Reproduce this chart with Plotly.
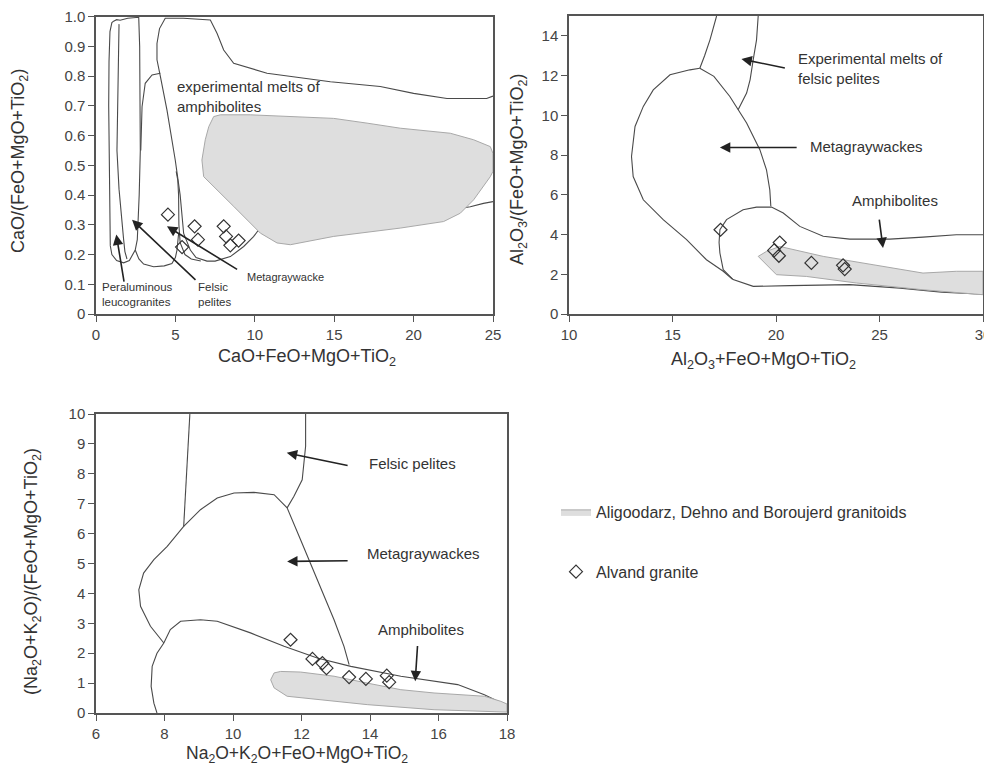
import plotly.graph_objects as go

# ---------------- Panel 1: CaO/(FeO+MgO+TiO2) vs CaO+FeO+MgO+TiO2 ----------------
p1_leuco_x = [0.90, 0.86, 0.84, 0.80, 0.82, 0.88, 1.00, 1.11, 1.30, 1.52, 2.00, 2.69, 2.75, 2.79, 2.79, 2.72, 2.68, 2.60, 2.47, 2.10, 1.74, 1.30, 1.00, 0.90]
p1_leuco_y = [0.23, 0.40, 0.55, 0.70, 0.85, 0.95, 0.98, 0.985, 0.99, 0.988, 0.995, 0.998, 0.90, 0.70, 0.55, 0.40, 0.33, 0.25, 0.215, 0.18, 0.172, 0.18, 0.20, 0.23]
p1_inner_x = [1.45, 1.40, 1.36, 1.32, 1.45, 1.60, 1.74, 1.82, 1.95]
p1_inner_y = [0.975, 0.85, 0.70, 0.55, 0.42, 0.32, 0.25, 0.21, 0.185]
p1_pel_x = [2.47, 2.70, 3.00, 3.63, 4.30, 4.78, 5.00, 5.10, 5.20]
p1_pel_y = [0.215, 0.185, 0.168, 0.159, 0.162, 0.17, 0.19, 0.215, 0.27]
p1_bump_x = [2.82, 2.85, 2.90, 3.10, 3.53, 4.05]
p1_bump_y = [0.55, 0.62, 0.697, 0.776, 0.804, 0.81]
p1_amph_x = [25.0, 24.4, 23.57, 20.0, 15.0, 12.0, 10.2, 9.92, 9.3, 8.46, 7.5, 6.99, 6.3, 5.94, 5.52, 5.30, 4.99, 4.47, 4.05, 3.84, 3.84, 4.00, 4.36, 5.50, 7.20, 7.62, 8.04, 8.67, 10.77, 14.76, 17.9, 20.0, 22.1, 24.6, 25.0]
p1_amph_y = [0.378, 0.372, 0.361, 0.33, 0.30, 0.29, 0.28, 0.26, 0.227, 0.193, 0.178, 0.178, 0.19, 0.215, 0.271, 0.40, 0.518, 0.686, 0.80, 0.855, 0.91, 0.96, 0.995, 0.995, 0.989, 0.944, 0.888, 0.843, 0.81, 0.781, 0.765, 0.742, 0.725, 0.725, 0.733]
p1_mg_x = [5.05, 5.15, 5.20, 5.22, 5.30, 5.60, 6.00, 6.60]
p1_mg_y = [0.48, 0.45, 0.40, 0.30, 0.24, 0.20, 0.185, 0.178]
p1_grey_x = [7.41, 7.83, 9.72, 12.87, 14.97, 17.07, 19.16, 22.31, 23.78, 24.83, 25.0, 25.0, 24.83, 23.78, 22.94, 21.89, 19.16, 14.97, 12.24, 11.4, 10.35, 8.67, 7.41, 6.78, 6.67, 6.88, 7.10, 7.41]
p1_grey_y = [0.664, 0.67, 0.67, 0.664, 0.658, 0.642, 0.625, 0.608, 0.586, 0.563, 0.54, 0.48, 0.462, 0.384, 0.339, 0.311, 0.289, 0.261, 0.233, 0.239, 0.272, 0.362, 0.429, 0.462, 0.518, 0.586, 0.63, 0.664]
p1_alv_x = [4.53, 5.42, 6.21, 6.42, 8.04, 8.19, 8.46, 8.98]
p1_alv_y = [0.334, 0.225, 0.295, 0.25, 0.295, 0.261, 0.231, 0.247]
p1_yticks = [0, 0.1, 0.2, 0.3, 0.4, 0.5, 0.6, 0.7, 0.8, 0.9, 1.0]
p1_ytext = ["0", "0.1", "0.2", "0.3", "0.4", "0.5", "0.6", "0.7", "0.8", "0.9", "1.0"]
p1_xticks = [0, 5, 10, 15, 20, 25]

# ---------------- Panel 2: Al2O3/(FeO+MgO+TiO2) vs Al2O3+FeO+MgO+TiO2 ----------------
p2_fpl_x = [17.13, 16.95, 16.81, 16.55, 16.32]
p2_fpl_y = [15.0, 14.3, 13.8, 13.0, 12.37]
p2_fpr_x = [19.14, 19.10, 19.06, 18.90, 18.75, 18.58, 18.17]
p2_fpr_y = [15.0, 14.3, 13.8, 12.8, 11.8, 11.12, 10.28]
p2_mgl_x = [16.32, 15.84, 14.88, 14.07, 13.59, 13.19, 13.02, 13.10, 13.59, 14.55, 15.68, 16.64, 17.45, 17.90]
p2_mgl_y = [12.37, 12.29, 12.04, 11.28, 10.45, 9.44, 7.93, 6.92, 5.75, 4.75, 3.74, 2.73, 2.15, 1.75]
p2_mgr_x = [16.32, 17.00, 17.77, 18.58, 19.22, 19.54, 19.70, 19.75]
p2_mgr_y = [12.37, 11.96, 10.95, 9.61, 8.27, 7.26, 6.25, 5.42]
p2_amph_x = [30.0, 28.71, 27.1, 25.5, 23.56, 22.28, 21.15, 20.35, 19.78, 19.06, 18.41, 17.61, 17.29, 17.25, 17.29, 17.45, 17.93, 18.9, 20.67, 23.56, 26.0, 28.0, 30.0]
p2_amph_y = [3.99, 3.99, 3.87, 3.77, 3.77, 3.91, 4.41, 5.08, 5.38, 5.38, 5.25, 4.75, 4.24, 3.6, 3.07, 2.23, 1.73, 1.39, 1.43, 1.48, 1.3, 1.1, 1.0]
p2_grey_x = [19.14, 19.54, 20.18, 22.28, 24.69, 27.1, 28.71, 30.0, 30.0, 27.1, 23.89, 21.47, 20.02, 19.62, 19.14]
p2_grey_y = [2.9, 3.15, 3.4, 2.9, 2.48, 2.06, 2.15, 2.15, 0.97, 1.22, 1.56, 1.89, 1.98, 2.4, 2.9]
p2_alv_x = [17.32, 20.18, 19.91, 20.14, 21.71, 23.24, 23.32]
p2_alv_y = [4.24, 3.6, 3.2, 2.93, 2.57, 2.45, 2.26]
p2_xticks = [10, 15, 20, 25, 30]
p2_yticks = [0, 2, 4, 6, 8, 10, 12, 14]

# ---------------- Panel 3: (Na2O+K2O)/(FeO+MgO+TiO2) vs Na2O+K2O+FeO+MgO+TiO2 ----------------
p3_fpl_x = [8.74, 8.70, 8.66, 8.59, 8.56]
p3_fpl_y = [10.0, 9.2, 8.36, 7.25, 6.24]
p3_fpr_x = [12.12, 12.12, 12.02, 11.78, 11.58]
p3_fpr_y = [10.0, 8.92, 7.8, 7.25, 6.86]
p3_mg_x = [7.98, 7.59, 7.30, 7.25, 7.39, 7.69, 8.08, 8.56, 9.05, 9.54, 10.03, 10.61, 11.2, 11.58, 11.97, 12.46, 12.95, 13.24, 13.39]
p3_mg_y = [2.34, 2.9, 3.57, 4.12, 4.68, 5.13, 5.57, 6.24, 6.8, 7.19, 7.36, 7.38, 7.3, 6.86, 5.8, 4.46, 3.12, 2.23, 1.62]
p3_amph_x = [7.78, 7.69, 7.61, 7.64, 7.78, 7.98, 8.17, 8.47, 9.05, 9.54, 10.51, 11.49, 12.46, 13.44, 14.9, 16.0, 16.56, 17.34, 17.82, 18.0]
p3_amph_y = [0.0, 0.33, 0.89, 1.56, 2.0, 2.34, 2.79, 3.07, 3.12, 3.07, 2.68, 2.23, 1.84, 1.56, 1.23, 1.05, 0.95, 0.61, 0.33, 0.25]
p3_grey_x = [11.2, 11.39, 11.97, 12.95, 13.92, 14.9, 15.87, 16.85, 17.34, 17.82, 18.0, 18.0, 16.85, 15.87, 13.92, 12.46, 11.58, 11.2, 11.1, 11.2]
p3_grey_y = [1.34, 1.39, 1.37, 1.23, 1.0, 0.78, 0.67, 0.61, 0.56, 0.39, 0.3, 0.03, 0.06, 0.11, 0.28, 0.45, 0.56, 0.84, 1.11, 1.34]
p3_alv_x = [11.68, 12.32, 12.61, 12.73, 13.39, 13.88, 14.49, 14.56]
p3_alv_y = [2.45, 1.81, 1.67, 1.5, 1.2, 1.14, 1.25, 1.03]
p3_xticks = [6, 8, 10, 12, 14, 16, 18]
p3_yticks = [0, 1, 2, 3, 4, 5, 6, 7, 8, 9, 10]

legend_grey = "Aligoodarz, Dehno and Boroujerd granitoids"
legend_alv = "Alvand granite"

FONT = "Liberation Sans, Arial, sans-serif"
LINE_C = "#4a4a4a"
GREY_FILL = "#dedede"
GREY_LINE = "#a8a8a8"

fig = go.Figure()

def add_line(x, y, xa, ya):
    fig.add_trace(go.Scatter(x=x, y=y, mode="lines", xaxis=xa, yaxis=ya,
                             line=dict(color=LINE_C, width=1.1), showlegend=False, hoverinfo="skip"))

def add_grey(x, y, xa, ya, show):
    fig.add_trace(go.Scatter(x=x, y=y, mode="lines", fill="toself", fillcolor=GREY_FILL,
                             line=dict(color=GREY_LINE, width=1), xaxis=xa, yaxis=ya,
                             name=legend_grey, showlegend=show, legendgroup="g1", hoverinfo="skip"))

def add_alv(x, y, xa, ya, show):
    fig.add_trace(go.Scatter(x=x, y=y, mode="markers", xaxis=xa, yaxis=ya,
                             marker=dict(symbol="diamond-open", size=10, color="#333",
                                         line=dict(width=1.2, color="#333")),
                             name=legend_alv, showlegend=show, legendgroup="g2"))

# panel 1
for xs, ys in [(p1_leuco_x, p1_leuco_y), (p1_inner_x, p1_inner_y), (p1_pel_x, p1_pel_y),
               (p1_bump_x, p1_bump_y), (p1_amph_x, p1_amph_y), (p1_mg_x, p1_mg_y)]:
    add_line(xs, ys, "x", "y")
add_grey(p1_grey_x, p1_grey_y, "x", "y", True)
add_alv(p1_alv_x, p1_alv_y, "x", "y", True)

# panel 2
for xs, ys in [(p2_fpl_x, p2_fpl_y), (p2_fpr_x, p2_fpr_y), (p2_mgl_x, p2_mgl_y),
               (p2_mgr_x, p2_mgr_y), (p2_amph_x, p2_amph_y)]:
    add_line(xs, ys, "x2", "y2")
add_grey(p2_grey_x, p2_grey_y, "x2", "y2", False)
add_alv(p2_alv_x, p2_alv_y, "x2", "y2", False)

# panel 3
for xs, ys in [(p3_fpl_x, p3_fpl_y), (p3_fpr_x, p3_fpr_y), (p3_mg_x, p3_mg_y), (p3_amph_x, p3_amph_y)]:
    add_line(xs, ys, "x3", "y3")
add_grey(p3_grey_x, p3_grey_y, "x3", "y3", False)
add_alv(p3_alv_x, p3_alv_y, "x3", "y3", False)

# page body has an 8px margin: figure is drawn offset by 8px
OFF = 8
W, H = 976, 757
def px(v):
    return (v - OFF) / W
def py(v):
    return 1 - (v - OFF) / H

axis_common = dict(showline=True, linecolor="#555", linewidth=1.5, mirror=True,
                   ticks="outside", ticklen=6, tickcolor="#555", tickwidth=1.2,
                   showgrid=False, zeroline=False, automargin=False, ticklabeloverflow="allow",
                   tickfont=dict(family=FONT, size=15, color="#444"))

fig.update_layout(
    width=W, height=H, margin=dict(l=0, r=0, t=0, b=0, autoexpand=False),
    paper_bgcolor="white", plot_bgcolor="white",
    font=dict(family=FONT, color="#333"),
    xaxis=dict(domain=[px(96), px(493)], range=[0, 25], tickvals=p1_xticks, anchor="y", **axis_common),
    yaxis=dict(domain=[py(314), py(16.7)], range=[0, 1], tickvals=p1_yticks, ticktext=p1_ytext, anchor="x", **axis_common),
    xaxis2=dict(domain=[px(569), min(1.0, px(983))], range=[10, 30], tickvals=p2_xticks, anchor="y2", **axis_common),
    yaxis2=dict(domain=[py(314), py(16)], range=[0, 15], tickvals=p2_yticks, anchor="x2", **axis_common),
    xaxis3=dict(domain=[px(96), px(507)], range=[6, 18], tickvals=p3_xticks, anchor="y3", **axis_common),
    yaxis3=dict(domain=[py(713), py(414)], range=[0, 10], tickvals=p3_yticks, anchor="x3", **axis_common),
    legend=dict(x=px(556), y=py(495), xanchor="left", yanchor="top",
                font=dict(family=FONT, size=16, color="#333"), tracegroupgap=36,
                bgcolor="rgba(0,0,0,0)"),
    showlegend=True,
)

ann = []
TF = dict(family=FONT, size=18, color="#333")
def title(text, sx, sy, angle=0, size=18):
    ann.append(dict(text=text, x=px(sx), y=py(sy), xref="paper", yref="paper", showarrow=False,
                    xanchor="center", yanchor="middle", textangle=angle,
                    font=dict(family=FONT, size=size, color="#333")))
# axis titles
title("CaO+FeO+MgO+TiO<sub>2</sub>", 307, 357)
title("CaO/(FeO+MgO+TiO<sub>2</sub>)", 20, 161, -90)
title("Al<sub>2</sub>O<sub>3</sub>+FeO+MgO+TiO<sub>2</sub>", 763, 360)
title("Al<sub>2</sub>O<sub>3</sub>/(FeO+MgO+TiO<sub>2</sub>)", 519, 170, -90)
title("Na<sub>2</sub>O+K<sub>2</sub>O+FeO+MgO+TiO<sub>2</sub>", 297, 754, 0, 17.5)
title("(Na<sub>2</sub>O+K<sub>2</sub>O)/(FeO+MgO+TiO<sub>2</sub>)", 32, 572, -90)

def label(text, x, y, xr, yr, size):
    ann.append(dict(text=text, x=x, y=y, xref=xr, yref=yr, showarrow=False, xanchor="left",
                    yanchor="middle", align="left", font=dict(family=FONT, size=size, color="#333")))

def arrow(hx, hy, tx, ty, xr, yr):
    ann.append(dict(text="", x=hx, y=hy, ax=tx, ay=ty, xref=xr, yref=yr, axref=xr, ayref=yr,
                    showarrow=True, arrowhead=2, arrowsize=1.3, arrowwidth=1.6, arrowcolor="#222"))

# panel 1 labels
label("experimental melts of<br>amphibolites", 5.0, 0.73, "x", "y", 15)
ann.append(dict(text="Peraluminous<br>leucogranites", x=2.62, y=0.067, xref="x", yref="y", showarrow=False,
                xanchor="center", yanchor="middle", align="left", font=dict(family=FONT, size=11.5, color="#333")))
label("Felsic<br>pelites", 6.3, 0.067, "x", "y", 11.5)
label("Metagraywacke", 9.4, 0.124, "x", "y", 11)
arrow(1.28, 0.267, 1.78, 0.104, "x", "y")
arrow(2.27, 0.317, 6.36, 0.11, "x", "y")
arrow(4.47, 0.295, 8.98, 0.147, "x", "y")

# panel 2 labels
label("Experimental melts of<br>felsic pelites", 20.96, 12.35, "x2", "y2", 15)
label("Metagraywackes", 21.55, 8.43, "x2", "y2", 15)
label("Amphibolites", 23.56, 5.7, "x2", "y2", 15)
arrow(18.33, 12.83, 20.5, 12.37, "x2", "y2")
arrow(17.29, 8.38, 21.07, 8.38, "x2", "y2")
arrow(25.17, 3.32, 24.98, 4.83, "x2", "y2")

# panel 3 labels
label("Felsic pelites", 13.92, 8.33, "x3", "y3", 15)
label("Metagraywackes", 13.85, 5.33, "x3", "y3", 15)
label("Amphibolites", 14.17, 2.79, "x3", "y3", 15)
arrow(11.57, 8.7, 13.39, 8.27, "x3", "y3")
arrow(11.58, 5.07, 13.39, 5.09, "x3", "y3")
arrow(15.32, 1.06, 15.39, 2.29, "x3", "y3")

fig.update_layout(annotations=ann)
fig.write_html("out.html")
